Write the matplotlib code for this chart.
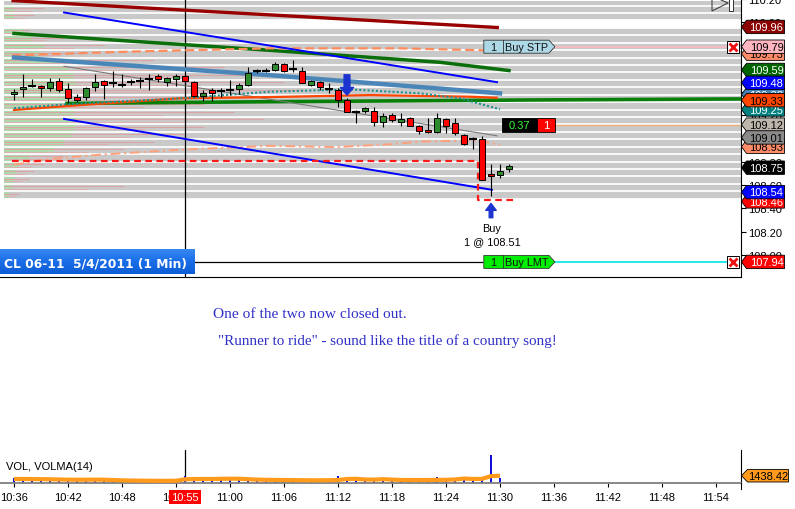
import numpy as np
import matplotlib
matplotlib.use('Agg')
import matplotlib.pyplot as plt
from matplotlib.patches import Polygon, Rectangle
from matplotlib.transforms import IdentityTransform
from matplotlib.colors import LinearSegmentedColormap

plt.rcParams['font.family'] = ['Liberation Sans', 'DejaVu Sans']

# ---------------- data ----------------
# minutes after 10:36
opens = [109.383, 109.423, 109.448, 109.448, 109.431, 109.491, 109.429, 109.354, 109.354, 109.440,
         109.491, 109.474, 109.460, 109.483, 109.494, 109.511, 109.540, 109.485, 109.508, 109.537,
         109.488, 109.369, 109.417, 109.406, 109.417, 109.423, 109.457, 109.582, 109.585, 109.588,
         109.645, 109.597, 109.582, 109.460, 109.488, 109.423, 109.417, 109.332, 109.232, 109.238,
         109.240, 109.141, 109.203, 109.146, 109.181, 109.109, 109.075, 109.058, 109.169, 109.132,
         109.027, 108.993, 108.995, 108.696, 108.688, 108.742]
highs = [109.426, 109.554, 109.511, 109.460, 109.517, 109.525, 109.480, 109.380, 109.440, 109.554,
         109.503, 109.579, 109.554, 109.508, 109.531, 109.554, 109.551, 109.531, 109.554, 109.548,
         109.494, 109.417, 109.431, 109.431, 109.503, 109.474, 109.617, 109.597, 109.603, 109.659,
         109.651, 109.674, 109.617, 109.503, 109.497, 109.474, 109.431, 109.346, 109.246, 109.275,
         109.269, 109.218, 109.223, 109.218, 109.189, 109.118, 109.175, 109.218, 109.175, 109.175,
         109.041, 109.013, 109.024, 108.782, 108.782, 108.785]
lows = [109.332, 109.354, 109.440, 109.360, 109.411, 109.403, 109.303, 109.317, 109.332, 109.411,
        109.340, 109.446, 109.446, 109.457, 109.431, 109.417, 109.483, 109.451, 109.451, 109.463,
        109.360, 109.323, 109.326, 109.360, 109.374, 109.380, 109.451, 109.565, 109.571, 109.580,
        109.574, 109.574, 109.474, 109.454, 109.417, 109.389, 109.275, 109.232, 109.138, 109.218,
        109.109, 109.098, 109.146, 109.109, 109.104, 109.041, 109.052, 109.047, 109.047, 109.032,
        108.947, 108.913, 108.648, 108.505, 108.662, 108.711]
closes = [109.397, 109.443, 109.448, 109.434, 109.483, 109.414, 109.346, 109.332, 109.437, 109.483,
          109.457, 109.474, 109.460, 109.483, 109.494, 109.511, 109.511, 109.517, 109.540, 109.491,
          109.366, 109.391, 109.389, 109.406, 109.417, 109.457, 109.565, 109.582, 109.585, 109.645,
          109.579, 109.597, 109.474, 109.494, 109.446, 109.423, 109.332, 109.232, 109.232, 109.260,
          109.146, 109.198, 109.161, 109.166, 109.109, 109.061, 109.058, 109.175, 109.112, 109.052,
          108.953, 108.993, 108.648, 108.676, 108.725, 108.762]

# indicator / drawing lines (minute, price)
darkred_t = [-0.1, 53.7];            darkred_p = [110.186, 109.955]
blue_hi_t = [5.56, 53.67];           blue_hi_p = [110.084, 109.485]
blue_lo_t = [5.56, 53.1];            blue_lo_p = [109.169, 108.560]
green_hi_t = [0, 28.44, 47.33, 55];  green_hi_p = [109.904, 109.759, 109.656, 109.585]
salmon_hi_t = [-0.22, 14, 28.44, 42.9, 52.2]
salmon_hi_p = [109.716, 109.750, 109.776, 109.776, 109.759]
steel_t = [0, 28.44, 54];            steel_p = [109.697, 109.545, 109.389]
teal_t = [0, 5.89, 18.44, 28.44, 32.11, 37.33, 45.11, 49.56, 54]
teal_p = [109.261, 109.295, 109.346, 109.403, 109.411, 109.423, 109.389, 109.346, 109.252]
orange_t = [0, 5.89, 18.44, 28.44, 39.56, 50.67, 53.63]
orange_p = [109.246, 109.280, 109.346, 109.357, 109.374, 109.360, 109.351]
green_lo_t = [5.89, 28.44, 57.33, 80.78]; green_lo_p = [109.303, 109.317, 109.332, 109.341]
grey_t = [5.56, 53.67];              grey_p = [109.622, 109.024]
salmon_lo_t = [0, 4, 9.56, 18.44, 28.44, 35.85, 42.15, 45.11, 51.41, 54]
salmon_lo_p = [108.776, 108.825, 108.862, 108.904, 108.938, 108.927, 108.953, 108.975, 108.984, 108.947]
stop_t = [-0.22, 51.56, 51.56, 55.44]; stop_p = [108.808, 108.808, 108.475, 108.475]

stp_price = 109.79
lmt_price = 107.94
pos_price = 109.12
buy_minute = 53
buy_price = 108.51
short_minute = 37
crosshair_minute = 19

# volume profile on the left (length in minutes for each price row from top)
profile_green = [1.1, 1.1, 0, 2.2, 3.1, 4.4, 3.9, 6.7, 7.2, 7.8, 8.0, 7.6, 7.3, 7.1,
                 7.8, 8.3, 8.0, 7.6, 6.7, 5.6, 2.8, 1.7, 1.3, 1.1, 0.9, 0.6]
profile_pink = [4.4, 3.3, 0, 2.8, 6.7, 11.1, 8.9, 16.7, 24.4, 28.9, 31.1, 33.3, 28.9, 22.2,
                25.6, 28.9, 22.2, 20.0, 16.7, 13.3, 6.7, 4.4, 3.3, 2.8, 13.3, 1.7]

# right axis tags (draw order)
tag_values = [109.96, 109.73, 109.79, 109.59, 109.38, 109.25, 109.33, 109.48,
              109.12, 108.93, 109.01, 108.75, 108.46, 108.54, 107.94]
tag_colors = ['#8b0000', '#ff8c69', '#ffb6c1', '#006400', '#4682b4', '#008080', '#ff4500', '#0000ff',
              '#bdb6ac', '#ff8c69', '#8a8a8a', '#000000', '#ff0000', '#0000ff', '#ff0000']
tag_text_colors = ['white', 'black', 'black', 'white', 'white', 'white', 'black', 'white',
                   'black', 'black', 'black', 'white', 'white', 'white', 'white']

# volume
volume = [950, 600, 550, 500, 600, 500, 550, 450, 500, 550, 450, 400, 450, 400, 420, 400, 430, 420, 400,
          1450, 1250, 1130, 600, 700, 650, 1250, 500, 450, 500, 450, 400, 450, 420, 450, 400, 450,
          1450, 700, 1250, 500, 450, 600, 500, 450, 500, 450, 500, 1130, 500, 550, 1250, 500, 600,
          5350, 1000]
volma = [813, 813, 800, 780, 760, 720, 690, 680, 680, 690, 680, 620, 560, 520, 500, 480, 470, 470, 480,
         760, 800, 820, 810, 850, 870, 860, 780, 700, 660, 640, 620, 600, 580, 570, 570, 580,
         620, 820, 850, 720, 690, 780, 700, 640, 620, 620, 620, 640, 660, 720, 900, 820, 840,
         1350, 1438.42]

x_tick_minutes = [0, 6, 12, 18, 24, 30, 36, 42, 48, 54, 60, 66, 72, 78]
x_tick_labels = ['10:36', '10:42', '10:48', '10:54', '11:00', '11:06', '11:12', '11:18',
                 '11:24', '11:30', '11:36', '11:42', '11:48', '11:54']

# ---------------- layout ----------------
W, H, DPI = 795, 510, 100
fig = plt.figure(figsize=(W / DPI, H / DPI), dpi=DPI)
fig.patch.set_facecolor('white')


def fr(x0, y0, x1, y1):
    return [x0 / W, 1 - y1 / H, (x1 - x0) / W, (y1 - y0) / H]


PXM = 9.0      # px per minute
PXP = 117.0    # px per price unit
ax = fig.add_axes(fr(0, 0, 741, 277.5))
axv = fig.add_axes(fr(0, 451, 741, 484.3))
ax.set_xlim(-14 / PXM, 727 / PXM)
ax.set_ylim(108.40 - 68.5 / PXP, 108.40 + 209 / PXP)
axv.set_xlim(-14 / PXM, 727 / PXM)
axv.set_ylim(0, 6300)
for a in (ax, axv):
    a.set_facecolor('none')
    for s in ('left', 'top'):
        a.spines[s].set_visible(False)
ax.spines['right'].set_color('black')
ax.spines['bottom'].set_color('black')
ax.spines['right'].set_linewidth(0.8)
ax.spines['bottom'].set_linewidth(0.8)
axv.spines['right'].set_linewidth(0.8)
axv.spines['bottom'].set_color('#7f7f7f')
axv.spines['bottom'].set_linewidth(1.3)

# background bands (volume profile grid)
tl = -10 / PXM
tr = 727 / PXM
step = 7.47 / PXP
top_line = 108.40 + 204 / PXP
lines_p = top_line - step * np.arange(27)
ytop = ax.get_ylim()[1]
ax.add_patch(Rectangle((tl, lines_p[-1]), tr - tl, ytop - lines_p[-1], fc='#c9c9c9', ec='none', zorder=0))
ax.add_patch(Rectangle((tl, lines_p[3]), tr - tl, lines_p[2] - lines_p[3], fc='white', ec='none', zorder=0.2))
for k in range(26):
    c = lines_p[k] - step / 2
    if profile_green[k] > 0:
        ax.add_patch(Rectangle((tl, c - step * 0.38), profile_green[k], step * 0.76,
                               fc='#acdaac', ec='none', zorder=0.3))
    if profile_pink[k] > 0:
        ax.hlines(c + step * 0.18, tl, tl + profile_pink[k], color='#dba5a5', lw=0.8, zorder=0.35)
        ax.hlines(c - step * 0.18, tl, tl + 0.7 * profile_pink[k], color='#dcb0b0', lw=0.7, zorder=0.35)
ax.hlines(lines_p, tl, tr, color='white', lw=1.25, zorder=0.4)

# crosshair vertical line
ax.axvline(crosshair_minute, color='black', lw=0.9, zorder=2)
axv.axvline(crosshair_minute, color='black', lw=0.9, zorder=2)

# indicator lines
ax.plot(darkred_t, darkred_p, color='#990000', lw=2.4, zorder=3)
ax.plot(green_hi_t, green_hi_p, color='#0a6e0a', lw=2.5, zorder=3)
ax.plot(salmon_hi_t, salmon_hi_p, color='#ff8c5a', lw=1.6, ls=(0, (4, 2)), zorder=3)
ax.plot(blue_hi_t, blue_hi_p, color='#0000ff', lw=1.4, zorder=3)
ax.plot(steel_t, steel_p, color='#4a86b8', lw=3.2, zorder=3)
ax.plot(green_lo_t, green_lo_p, color='#088008', lw=2.6, zorder=3)
ax.plot(orange_t, orange_p, color='#ff4500', lw=1.6, zorder=3.1)
ax.plot(teal_t, teal_p, color='#1f8f8f', lw=1.5, ls=(0, (1, 1)), zorder=3.2)
ax.plot(grey_t, grey_p, color='#7a7a7a', lw=0.8, zorder=3)
ax.plot(salmon_lo_t, salmon_lo_p, color='#ffa07a', lw=1.4, ls=(0, (5, 2, 1, 2)), zorder=3)
ax.plot(blue_lo_t, blue_lo_p, color='#0000ff', lw=1.4, zorder=3)
ax.plot(stop_t, stop_p, color='#ff1a1a', lw=1.6, ls=(0, (3, 2)), zorder=3.5)

# order lines
ax.hlines(stp_price, 60.1, 79.2, color='#ffb6c1', lw=1.2, zorder=3)
ax.hlines(pos_price, 60.1, tr, color='#f0b07a', lw=1.0, zorder=3)
ax.hlines(lmt_price, ax.get_xlim()[0], 52.1, color='black', lw=0.9, zorder=3)
ax.hlines(lmt_price, 60.1, 79.2, color='#00e5e5', lw=1.2, zorder=3)

# candles
bw = 0.72
for i in range(len(opens)):
    o, h, l, c = opens[i], highs[i], lows[i], closes[i]
    ax.vlines(i, l, h, color='black', lw=0.8, zorder=5)
    if abs(c - o) < 0.004:
        ax.hlines(o, i - bw / 2 - 0.05, i + bw / 2 + 0.05, color='black', lw=1.5, zorder=5.1)
    else:
        col = '#2e8b2e' if c > o else '#ff0000'
        ax.add_patch(Rectangle((i - bw / 2, min(o, c)), bw, abs(c - o), fc=col, ec='black',
                               lw=0.7, zorder=5.2))

# arrows
ax.annotate('', xy=(short_minute, 109.374), xytext=(short_minute, 109.548),
            arrowprops=dict(width=4.2, headwidth=9.5, headlength=5.5, shrink=0, fc='#1c33d0', ec='#1c33d0'),
            zorder=6)
ax.annotate('', xy=(buy_minute, 108.443), xytext=(buy_minute, 108.32),
            arrowprops=dict(width=2.6, headwidth=7.5, headlength=5, shrink=0, fc='#1c33d0', ec='#1c33d0'),
            zorder=6)
ax.text(buy_minute + 0.1, 108.232, 'Buy', ha='center', va='center', fontsize=7.8, zorder=6)
ax.text(buy_minute + 0.1, 108.12, f'1 @ {buy_price:.2f}', ha='center', va='center', fontsize=7.8, zorder=6)

# right axis ticks
ax.yaxis.tick_right()
ax.set_yticks(np.round(np.arange(108.0, 110.21, 0.2), 2))
ax.yaxis.set_major_formatter(matplotlib.ticker.FormatStrFormatter('%.2f'))
ax.tick_params(axis='y', direction='out', length=3.5, width=0.8, pad=1.5, labelsize=8)
ax.set_xticks([])
axv.set_yticks([])
axv.set_xticks(x_tick_minutes)
axv.set_xticklabels(x_tick_labels)
axv.tick_params(axis='x', direction='out', length=3, width=0.8, pad=3, labelsize=8)

ID = IdentityTransform()
xr = ax.transAxes.transform((1, 0))[0]


def yd_of(a, v):
    return a.transData.transform((0, v))[1]


def xd_of(a, t):
    return a.transData.transform((t, 0))[0]


# price tags
for i, (v, fc, tc) in enumerate(zip(tag_values, tag_colors, tag_text_colors)):
    yd = yd_of(ax, v)
    x0 = xr + 0.5
    verts = [(x0, yd), (x0 + 5, yd + 6.7), (x0 + 43, yd + 6.7), (x0 + 43, yd - 6.7), (x0 + 5, yd - 6.7)]
    fig.add_artist(Polygon(verts, closed=True, transform=ID, fc=fc, ec='black', lw=0.6, zorder=10 + 2 * i))
    fig.add_artist(matplotlib.text.Text(x0 + 25, yd - 0.3, f'{v:.2f}', transform=ID, ha='center', va='center',
                                        color=tc, fontsize=8, zorder=11 + 2 * i,
                                        fontfamily=['Liberation Sans', 'DejaVu Sans']))

# volume tag
ydv = axv.transData.transform((0, volma[-1]))[1]
x0 = xr + 0.5
verts = [(x0, ydv), (x0 + 6, ydv + 6.3), (x0 + 47, ydv + 6.3), (x0 + 47, ydv - 6.3), (x0 + 6, ydv - 6.3)]
fig.add_artist(Polygon(verts, closed=True, transform=ID, fc='#ff9a1a', ec='black', lw=0.6, zorder=50))
fig.add_artist(matplotlib.text.Text(x0 + 27, ydv - 0.3, f'{volma[-1]:.2f}', transform=ID, ha='center',
                                    va='center', color='black', fontsize=8, zorder=51,
                                    fontfamily=['Liberation Sans', 'DejaVu Sans']))
fig.add_artist(matplotlib.lines.Line2D([xr, xr], [H - 484, H - 490], transform=ID, color='black',
                                       lw=0.8, zorder=5))


def order_tag(price, fc, label):
    yd = yd_of(ax, price)
    xl = xd_of(ax, 52.2)
    xrr = xd_of(ax, 60.1)
    h = 6.5
    verts = [(xl, yd + h), (xrr - 6, yd + h), (xrr, yd), (xrr - 6, yd - h), (xl, yd - h)]
    fig.add_artist(Polygon(verts, closed=True, transform=ID, fc=fc, ec='#333333', lw=0.6, zorder=40))
    fig.add_artist(matplotlib.lines.Line2D([xl + 19, xl + 19], [yd - h, yd + h], transform=ID,
                                           color='#333333', lw=0.6, zorder=41))
    fig.add_artist(matplotlib.text.Text(xl + 9.5, yd - 0.3, '1', transform=ID, ha='center', va='center',
                                        fontsize=7.8, zorder=42, color='#111111'))
    fig.add_artist(matplotlib.text.Text(xl + 21, yd - 0.3, label, transform=ID, ha='left', va='center',
                                        fontsize=7.8, zorder=42, color='#111111'))


order_tag(stp_price, '#add8e6', 'Buy STP')
order_tag(lmt_price, '#00ee00', 'Buy LMT')

# position P/L box
ydp = yd_of(ax, pos_price)
xa = xd_of(ax, 54.22)
xb = xd_of(ax, 58.11)
xc = xd_of(ax, 60.1)
fig.add_artist(Rectangle((xa, ydp - 7), xb - xa, 14, transform=ID, fc='black', ec='black', lw=0.6, zorder=40))
fig.add_artist(Rectangle((xb, ydp - 7), xc - xb, 14, transform=ID, fc='#ff0000', ec='black', lw=0.6, zorder=40))
fig.add_artist(matplotlib.text.Text((xa + xb) / 2, ydp - 0.3, '0.37', transform=ID, ha='center', va='center',
                                    fontsize=8, color='#33ff33', zorder=41))
fig.add_artist(matplotlib.text.Text((xb + xc) / 2, ydp - 0.3, '1', transform=ID, ha='center', va='center',
                                    fontsize=8, color='white', zorder=41))

# cancel boxes
for pr in (stp_price, lmt_price):
    ax.plot([79.9], [pr], marker='s', ms=8.6, mfc='white', mec='black', mew=0.7, zorder=30, clip_on=False)
    ax.plot([79.9], [pr], marker='x', ms=6.0, mec='#ee1111', mew=2.0, zorder=31, clip_on=False)

# volume panel
axv.bar(range(len(volume)), volume, width=0.25, color='#1010dd', zorder=2)
axv.plot(range(len(volma)), volma, color='#ff9a1a', lw=3.0, zorder=3, solid_capstyle='butt')
axv.text(crosshair_minute, -0.42, '10:55', transform=axv.get_xaxis_transform(), ha='center', va='center',
         color='white', fontsize=8, zorder=20,
         bbox=dict(boxstyle='square,pad=0.18', fc='#ff0000', ec='none'))
fig.text(6 / W, 1 - 467 / H, 'VOL, VOLMA(14)', ha='left', va='center', fontsize=8)

# title box
axt = fig.add_axes(fr(0, 249.5, 194.5, 275.5))
grad = np.linspace(0, 1, 30).reshape(-1, 1)
cmap = LinearSegmentedColormap.from_list('bl', ['#3a8af2', '#1a6ee8', '#0e5ed6'])
axt.imshow(grad, aspect='auto', cmap=cmap, extent=(0, 1, 0, 1))
axt.set_axis_off()
axt.text(0.022, 0.44, 'CL 06-11  5/4/2011 (1 Min)', color='white', fontsize=8.8, fontweight='bold',
         family='DejaVu Sans', ha='left', va='center', transform=axt.transAxes)

# annotations
fig.text(213 / W, 1 - 315 / H, 'One of the two now closed out.', color='#3030c8',
         family='Liberation Serif', fontsize=11.1, va='center', ha='left')
fig.text(218 / W, 1 - 341 / H, '"Runner to ride" - sound like the title of a country song!', color='#3030c8',
         family='Liberation Serif', fontsize=10.9, va='center', ha='left')

# top-right play glyph
fig.add_artist(Polygon([(712, H + 3), (712, H - 12), (728, H - 4)], closed=True, transform=ID,
                       fc='none', ec='#333333', lw=0.7, zorder=60))
fig.add_artist(Rectangle((729, H - 12), 4, 14, transform=ID, fc='white', ec='#333333', lw=0.7, zorder=60))

fig.savefig('out.png', dpi=DPI, facecolor='white')
